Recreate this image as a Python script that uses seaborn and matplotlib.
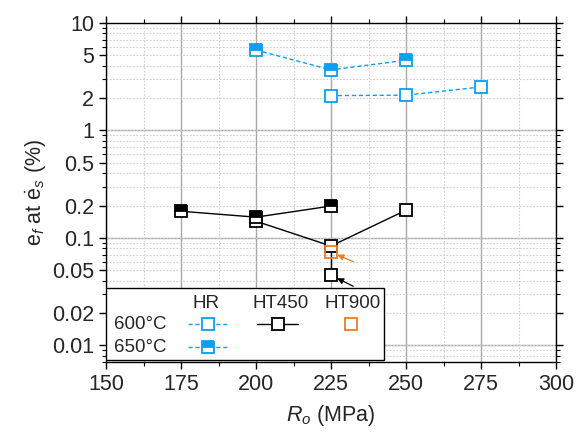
import numpy as np
import pandas as pd
import matplotlib
matplotlib.use("Agg")
import matplotlib.pyplot as plt
import matplotlib.ticker as mticker
from matplotlib.lines import Line2D
from matplotlib.patches import Rectangle
import seaborn as sns

# data
hr600_x = [225, 250, 275]
hr600_y = [2.11, 2.13, 2.54]
hr650_x = [200, 225, 250]
hr650_y = [5.6, 3.66, 4.5]
ht450_600_x = [200, 225, 250]
ht450_600_y = [0.143, 0.084, 0.181]
ht450_650_x = [175, 200, 225]
ht450_650_y = [0.177, 0.156, 0.198]
ht450_low_x = [225]
ht450_low_y = [0.045]
ht900_x = [225]
ht900_y = [0.074]

x_ticks = [150, 175, 200, 225, 250, 275, 300]
y_ticks = [0.01, 0.02, 0.05, 0.1, 0.2, 0.5, 1, 2, 5, 10]
y_labels = ["0.01", "0.02", "0.05", "0.1", "0.2", "0.5", "1", "2", "5", "10"]

BLUE = "#0a9ff5"
ORANGE = "#f07d1e"

sns.set_style("ticks")
plt.rcParams["font.family"] = ["Liberation Sans", "DejaVu Sans"]
plt.rcParams["mathtext.fontset"] = "custom"
plt.rcParams["mathtext.rm"] = "Liberation Sans"
plt.rcParams["mathtext.it"] = "Liberation Sans:italic"

fig, ax = plt.subplots(figsize=(5.77, 4.37), dpi=100)
fig.subplots_adjust(left=106 / 577, right=556 / 577, top=1 - 23 / 437, bottom=1 - 362 / 437)

ax.set_yscale("log")
ax.set_xlim(150, 300)
ax.set_ylim(0.007, 10)

# grid
ax.set_xticks(x_ticks)
ax.xaxis.set_minor_locator(mticker.MultipleLocator(12.5))
ax.set_yticks(y_ticks)
ax.set_yticklabels(y_labels)
minor_y = [m * d for d in [0.001, 0.01, 0.1, 1] for m in [3, 4, 6, 7, 8, 9]]
ax.yaxis.set_minor_locator(mticker.FixedLocator(minor_y))
ax.yaxis.set_minor_formatter(mticker.NullFormatter())
ax.grid(which="minor", axis="both", ls=(0, (1.5, 1.5)), color="#cfcfcf", lw=0.8, zorder=0)
ax.grid(which="major", axis="y", ls=(0, (1.5, 1.5)), color="#cfcfcf", lw=0.8, zorder=0)
ax.grid(which="major", axis="x", ls="-", color="#a8a8a8", lw=1.0, zorder=0)
for d in [0.01, 0.1, 1]:
    ax.axhline(d, color="#a8a8a8", lw=1.0, zorder=0.5)

ms = 8
mew = 1.3

# HR series
sns.lineplot(x=hr600_x, y=hr600_y, ax=ax, color=BLUE, lw=1.0, ls=(0, (3, 2)),
             marker="s", markersize=ms, markeredgewidth=mew, markeredgecolor=BLUE,
             markerfacecolor="white", zorder=3)
sns.lineplot(x=hr650_x, y=hr650_y, ax=ax, color=BLUE, lw=1.0, ls=(0, (3, 2)),
             marker="s", markersize=ms, markeredgewidth=mew, markeredgecolor=BLUE,
             markerfacecolor=BLUE, markerfacecoloralt="white", fillstyle="top", zorder=3)

# HT450 series
ax.vlines(ht450_low_x, ht450_low_y, [ht450_600_y[1]], color="black", lw=1.0, zorder=2)
sns.lineplot(x=ht450_600_x, y=ht450_600_y, ax=ax, color="black", lw=1.0,
             marker="s", markersize=ms, markeredgewidth=mew, markeredgecolor="black",
             markerfacecolor="white", zorder=3)
sns.lineplot(x=ht450_650_x, y=ht450_650_y, ax=ax, color="black", lw=1.0,
             marker="s", markersize=ms, markeredgewidth=mew, markeredgecolor="black",
             markerfacecolor="black", markerfacecoloralt="white", fillstyle="top", zorder=3)
sns.lineplot(x=ht450_low_x, y=ht450_low_y, ax=ax, color="black", lw=0,
             marker="s", markersize=ms, markeredgewidth=mew, markeredgecolor="black",
             markerfacecolor="white", zorder=3)

# HT900
sns.lineplot(x=ht900_x, y=ht900_y, ax=ax, color=ORANGE, lw=0,
             marker="s", markersize=ms, markeredgewidth=mew, markeredgecolor=ORANGE,
             markerfacecolor="none", zorder=4)

# arrows
ax.annotate("", xy=(ht450_low_x[0], ht450_low_y[0]), xytext=(16, -8), textcoords="offset points",
            arrowprops=dict(arrowstyle="-|>", color="black", lw=0.9, shrinkA=0, shrinkB=5,
                            mutation_scale=9), zorder=5)
ax.annotate("", xy=(ht900_x[0], ht900_y[0]), xytext=(16, -7), textcoords="offset points",
            arrowprops=dict(arrowstyle="-|>", color=ORANGE, lw=0.9, shrinkA=0, shrinkB=5,
                            mutation_scale=9), zorder=5)

# spines and ticks
for s in ax.spines.values():
    s.set_visible(True)
    s.set_color("black")
    s.set_linewidth(1.0)
ax.tick_params(which="both", left=True, bottom=True, right=True, top=True,
               labelsize=15.5, color="black")
ax.tick_params(which="major", length=5, width=1.0)
ax.tick_params(which="minor", length=3, width=0.8)
ax.tick_params(axis="x", which="both", top=True, direction="out")
ax.tick_params(axis="y", which="both", direction="out")
ax.xaxis.set_ticks_position("both")
ax.yaxis.set_ticks_position("both")

ax.set_xlabel(r"$R_o$ (MPa)", fontsize=15.5, labelpad=6)
ax.set_ylabel(r"$\mathrm{e}_f$ at $\dot{\mathrm{e}}_s$ (%)", fontsize=15.5, labelpad=2)

# legend box (manual table layout)
tr = ax.transAxes
ax.add_patch(Rectangle((0.0, 0.006), 0.618, 0.212, transform=tr, facecolor="white",
                       edgecolor="black", lw=1.0, zorder=6))
lfs = 13.5
ax.text(0.222, 0.174, "HR", transform=tr, ha="center", va="center", fontsize=lfs, zorder=7)
ax.text(0.387, 0.174, "HT450", transform=tr, ha="center", va="center", fontsize=lfs, zorder=7)
ax.text(0.547, 0.174, "HT900", transform=tr, ha="center", va="center", fontsize=lfs, zorder=7)
ax.text(0.018, 0.112, "600°C", transform=tr, ha="left", va="center", fontsize=lfs, zorder=7)
ax.text(0.018, 0.044, "650°C", transform=tr, ha="left", va="center", fontsize=lfs, zorder=7)

legend_items = [
    ([0.182, 0.272], 0.112, BLUE, (0, (3, 2)), dict(markerfacecolor="white")),
    ([0.182, 0.272], 0.044, BLUE, (0, (3, 2)),
     dict(markerfacecolor=BLUE, markerfacecoloralt="white", fillstyle="top")),
    ([0.336, 0.427], 0.112, "black", "-", dict(markerfacecolor="white")),
]
for xs, yy, c, ls, extra in legend_items:
    ax.add_line(Line2D(xs, [yy, yy], transform=tr, color=c, lw=1.0, ls=ls, zorder=7))
    ax.add_line(Line2D([np.mean(xs)], [yy], transform=tr, color=c, lw=0, marker="s",
                       markersize=ms, markeredgewidth=mew, markeredgecolor=c, zorder=8, **extra))
ax.add_line(Line2D([0.544], [0.112], transform=tr, lw=0, marker="s", markersize=ms,
                   markeredgewidth=mew, markeredgecolor=ORANGE, markerfacecolor="white", zorder=8))

fig.savefig("out.png", dpi=100)
